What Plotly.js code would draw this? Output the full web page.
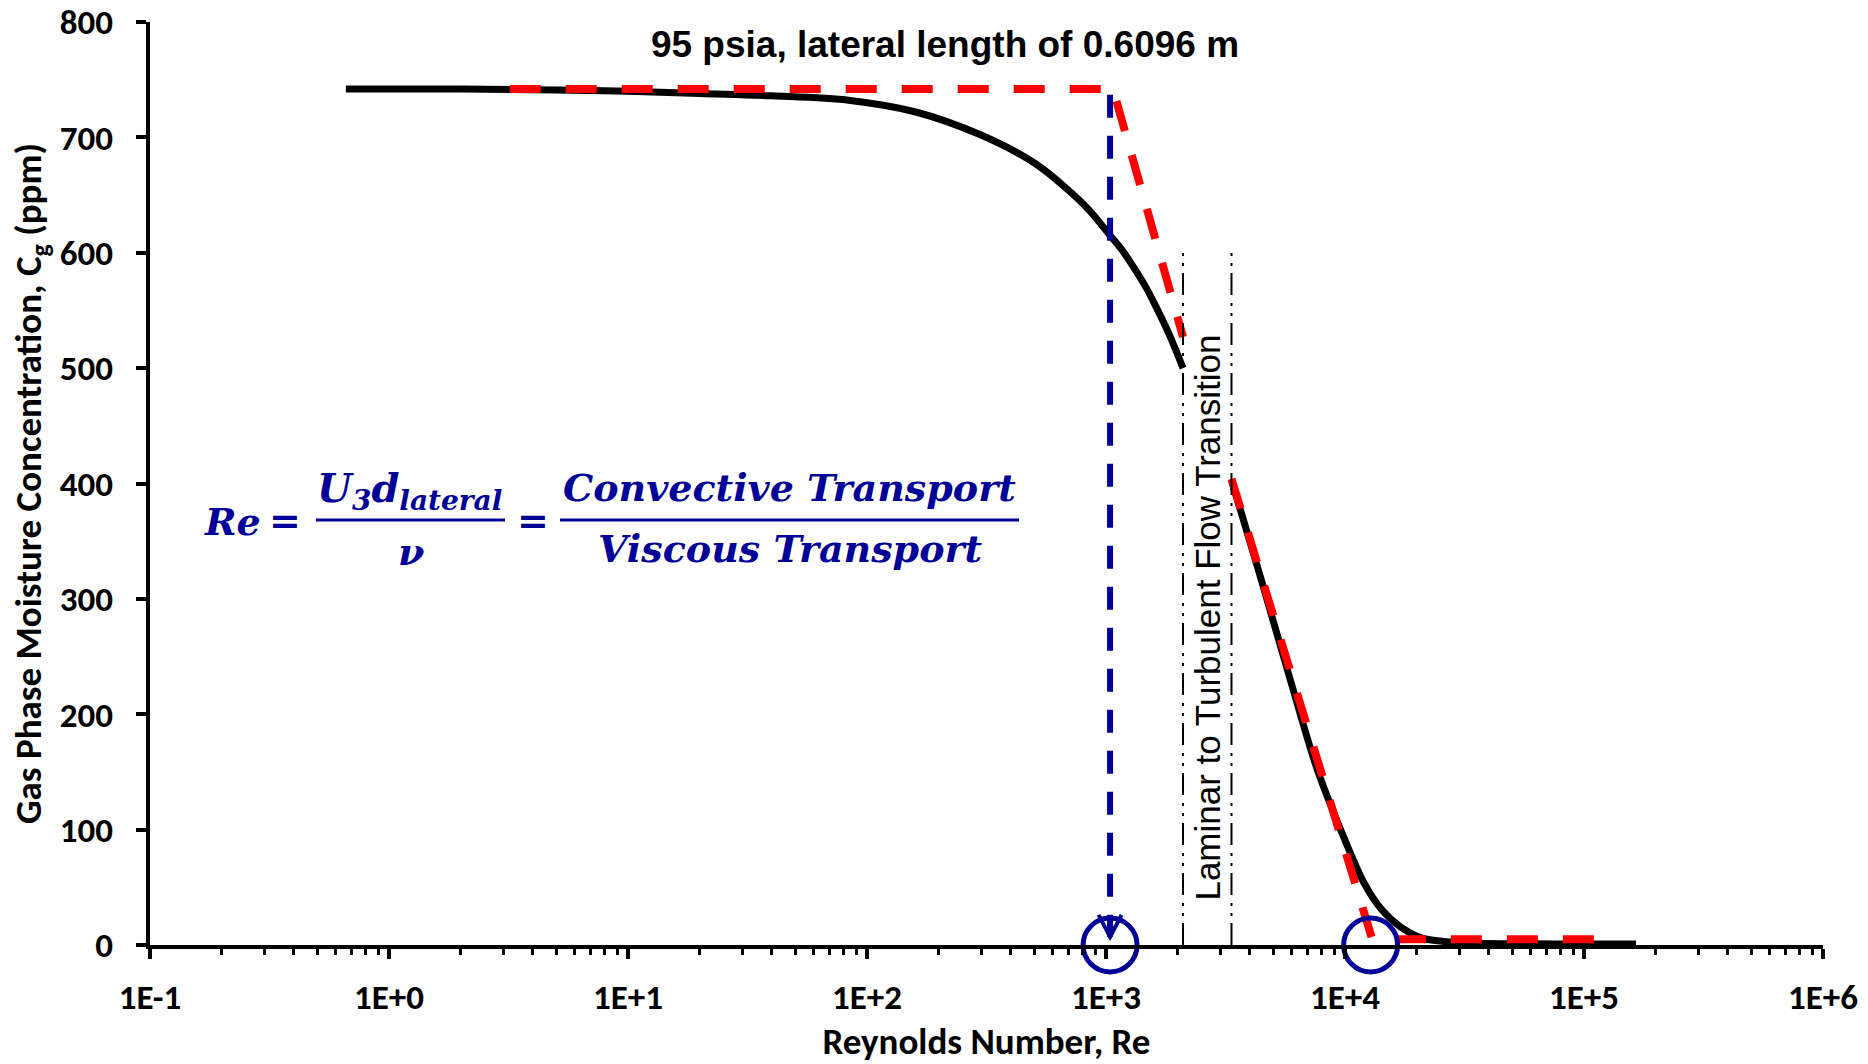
<!DOCTYPE html>
<html>
<head>
<meta charset="utf-8">
<script src="https://cdn.plot.ly/plotly-3.0.1.min.js"></script>
<style>
  html, body { margin: 0; padding: 0; background: #ffffff; }
  #chart { width: 1868px; height: 1064px; }
</style>
</head>
<body>
<div id="chart"></div>
<script>
// ---------------- data ----------------
// model curve, laminar branch
const laminarRe = [0.66, 2, 5, 10, 20, 40, 85, 160, 300, 500, 690, 850, 1040, 1170, 1300, 1470, 1630, 1850, 2100];
const laminarCg = [742, 742, 741, 740, 738, 736, 732, 722, 702, 678, 655, 637, 615, 602, 588, 570, 552, 528, 500];
// model curve, turbulent branch
const turbRe = [3350, 4400, 5900, 7600, 9900, 12000, 14200, 17000, 21000, 26000, 35000, 60000, 100000, 165000];
const turbCg = [403, 321, 230, 154, 93, 54, 31, 16, 6, 3, 1.5, 1, 0.8, 0.8];
// asymptotes (red dashed)
const asymLamRe = [3.2, 1070, 2100];
const asymLamCg = [742, 742, 527];
const asymTurbRe = [3350, 13000, 120000];
const asymTurbCg = [404, 5, 5];
// critical Reynolds number marker (blue dashed arrow)
const critRe = [1040, 1040];
const critCg = [737, 7];
// circled points on the axis
const circleRe = [1040, 12800];
const circleCg = [0, 0];
// laminar-to-turbulent transition bounds
const transRe = [2100, 3350];
const transCg = [0, 600];
// axis ticks
const xTickVals = [0.1, 1, 10, 100, 1000, 10000, 100000, 1000000];
const xTickText = ['1E-1', '1E+0', '1E+1', '1E+2', '1E+3', '1E+4', '1E+5', '1E+6'];
const yTickVals = [0, 100, 200, 300, 400, 500, 600, 700, 800];

// ---------------- layout helpers ----------------
const W = 1868, H = 1064;
const M = { l: 150, r: 45, t: 22, b: 119 };
const PW = W - M.l - M.r, PH = H - M.t - M.b;
const px = X => (X - M.l) / PW;          // page pixel -> paper x
const py = Y => (H - M.b - Y) / PH;      // page pixel -> paper y

const BLUE = '#000099';
const RED = '#ff0000';
const SANS_B = 'Carlito, Lato, sans-serif';
const TICKFONT = { family: SANS_B, size: 35, color: '#000000', weight: 'bold' };
const EQFONT = { family: 'DejaVu Serif, serif', size: 38, color: BLUE };

const transDash = '22px,7px,3px,7px,3px,8px';

const traces = [
  { x: laminarRe, y: laminarCg, mode: 'lines', line: { color: '#000000', width: 7, shape: 'spline', smoothing: 1 }, hoverinfo: 'skip' },
  { x: turbRe, y: turbCg, mode: 'lines', line: { color: '#000000', width: 7, shape: 'spline', smoothing: 0.8 }, hoverinfo: 'skip' },
  { x: asymLamRe, y: asymLamCg, mode: 'lines', line: { color: RED, width: 8, dash: '31px,25px' }, hoverinfo: 'skip' },
  { x: asymTurbRe, y: asymTurbCg, mode: 'lines', line: { color: RED, width: 8, dash: '31px,25px' }, hoverinfo: 'skip' },
  { x: [transRe[0], transRe[0]], y: transCg, mode: 'lines', line: { color: '#000000', width: 2, dash: transDash }, hoverinfo: 'skip' },
  { x: [transRe[1], transRe[1]], y: transCg, mode: 'lines', line: { color: '#000000', width: 2, dash: transDash }, hoverinfo: 'skip' },
  { x: critRe, y: critCg, mode: 'lines', line: { color: BLUE, width: 6, dash: '23px,18px' }, hoverinfo: 'skip' },
  { x: circleRe, y: circleCg, mode: 'markers', cliponaxis: false,
    marker: { symbol: 'circle-open', size: 54, color: BLUE, line: { color: BLUE, width: 5 } }, hoverinfo: 'skip' }
];

const eq = (X, Y, text, size) => ({
  xref: 'paper', yref: 'paper', x: px(X), y: py(Y), xanchor: 'center', yanchor: 'middle',
  text: text, showarrow: false, font: Object.assign({}, EQFONT, size ? { size: size } : {})
});

const layout = {
  width: W, height: H,
  margin: M,
  paper_bgcolor: '#ffffff', plot_bgcolor: '#ffffff',
  showlegend: false,
  title: {
    text: '<b>95 psia, lateral length of 0.6096 m</b>',
    font: { family: 'Liberation Sans, Arial, sans-serif', size: 37, color: '#000000' },
    xref: 'container', yref: 'container', x: 945 / W, y: 1 - 44 / H, xanchor: 'center', yanchor: 'middle'
  },
  xaxis: {
    type: 'log', range: [-1, 6],
    tickmode: 'array', tickvals: xTickVals, ticktext: xTickText,
    ticks: 'outside', ticklen: 10, tickwidth: 4, tickcolor: '#000000',
    ticklabelstandoff: 8,
    minor: { ticks: 'outside', ticklen: 6, tickwidth: 3, tickcolor: '#000000', dtick: 'D1', showgrid: false },
    showline: true, linewidth: 4, linecolor: '#000000',
    showgrid: false, zeroline: false,
    tickfont: TICKFONT,
    title: { text: '<b>Reynolds Number, Re</b>', font: { family: SANS_B, size: 37, color: '#000000' }, standoff: 35 }
  },
  yaxis: {
    range: [0, 800],
    tickmode: 'array', tickvals: yTickVals,
    ticks: 'outside', ticklen: 10, tickwidth: 4, tickcolor: '#000000',
    ticklabelstandoff: 16,
    showline: true, linewidth: 4, linecolor: '#000000',
    showgrid: false, zeroline: false,
    tickfont: TICKFONT,
    title: { text: '<b>Gas Phase Moisture Concentration, C<sub>g</sub> (ppm)</b>', font: { family: SANS_B, size: 37, color: '#000000' }, standoff: 8 }
  },
  annotations: [
    { xref: 'x', yref: 'y',
      x: (Math.log10(transRe[0]) + Math.log10(transRe[1])) / 2, y: 284,
      text: 'Laminar to Turbulent Flow Transition', textangle: -90, showarrow: false,
      font: { family: 'Liberation Sans, Arial, sans-serif', size: 35, color: '#000000' } },
    eq(232, 521, '<b><i>Re</i></b>'),
    eq(285, 520, '<b>=</b>'),
    eq(409, 490, '<b><i>U<sub>3</sub>d<sub>lateral</sub></i></b>', 40),
    eq(411, 551, '<b><i>\u03BD</i></b>'),
    eq(533, 520, '<b>=</b>'),
    eq(789, 487, '<b><i>Convective Transport</i></b>'),
    eq(790, 548, '<b><i>Viscous Transport</i></b>')
  ],
  shapes: [
    { type: 'line', xref: 'paper', yref: 'paper', x0: px(316), x1: px(505), y0: py(520), y1: py(520), line: { color: BLUE, width: 3 } },
    { type: 'line', xref: 'paper', yref: 'paper', x0: px(560), x1: px(1019), y0: py(520), y1: py(520), line: { color: BLUE, width: 3 } },
    // open arrowhead at the foot of the blue dashed line
    { type: 'path', xref: 'x', yref: 'y', xsizemode: 'pixel', ysizemode: 'pixel',
      xanchor: critRe[1], yanchor: critCg[1],
      path: 'M-11.5,22 L0,0 L11.5,22', line: { color: BLUE, width: 4 } }
  ]
};

Plotly.newPlot('chart', traces, layout, { displayModeBar: false, responsive: false });
</script>
</body>
</html>
